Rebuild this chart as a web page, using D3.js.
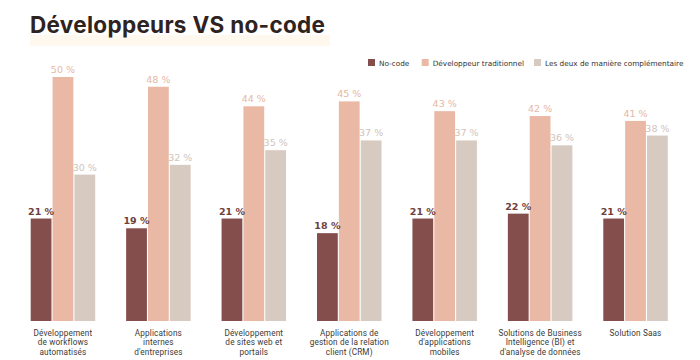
<!DOCTYPE html>
<html><head><meta charset="utf-8">
<script src="https://cdn.jsdelivr.net/npm/d3@7"></script>
<style>html,body{margin:0;padding:0;background:#fff;}svg{display:block;}</style>
</head><body>
<svg id="chart" width="700" height="360"></svg>
<script>
const categories = [
  ["Développement","de workflows","automatisés"],
  ["Applications","internes","d'entreprises"],
  ["Développement","de sites web et","portails"],
  ["Applications de","gestion de la relation","client (CRM)"],
  ["Développement","d'applications","mobiles"],
  ["Solutions de Business","Intelligence (BI) et","d'analyse de données"],
  ["Solution Saas"]
];
const seriesNames = ["No-code","Développeur traditionnel","Les deux de manière complémentaire"];
const noCode = [21,19,21,18,21,22,21];
const devTrad = [50,48,44,45,43,42,41];
const lesDeux = [30,32,35,37,37,36,38];
const series = [noCode, devTrad, lesDeux];
const colors = ["#834e4b","#e9b9a5","#d7cac1"];
const labelColors = ["#6e3f3d","#e6b7a3","#cfc4bc"];

const svg = d3.select("#chart");
const catIdx = categories.map((d,i)=>i);
const x0 = d3.scaleBand().domain(catIdx).range([30.7,667.8]).paddingInner(0.324).paddingOuter(0);
const x1 = d3.scaleBand().domain([0,1,2]).range([0,x0.bandwidth()]).paddingInner(0.05);
const y = d3.scaleLinear().domain([0,50]).range([321,77]);

// title
svg.append("rect").attr("x",30).attr("y",35).attr("width",300).attr("height",11).attr("fill","#fef8ee");
svg.append("text").attr("x",30).attr("y",33)
  .attr("font-family","Inter, 'Open Sans', sans-serif").attr("font-weight",700)
  .attr("font-size",22.5).attr("fill","#2e2320").attr("letter-spacing","0.3")
  .text("Développeurs VS no-code");

// legend
const legendX = [368,421.7,534];
seriesNames.forEach((n,i)=>{
  const g = svg.append("g").attr("transform",`translate(${legendX[i]},59)`);
  g.append("rect").attr("width",7).attr("height",7).attr("fill",colors[i]);
  g.append("text").attr("x",11).attr("y",6.5).attr("font-family","'DejaVu Sans', sans-serif")
    .attr("font-size",7.3).attr("fill","#333").text(n);
});

// bars
const groups = svg.append("g").selectAll("g").data(catIdx).join("g")
  .attr("transform",i=>`translate(${x0(i)},0)`);
groups.selectAll("rect").data(i=>series.map((s,k)=>({k,v:s[i]}))).join("rect")
  .attr("x",d=>x1(d.k)).attr("width",x1.bandwidth())
  .attr("y",d=>y(d.v)).attr("height",d=>y(0)-y(d.v)).attr("fill",d=>colors[d.k]);
groups.selectAll("text.val").data(i=>series.map((s,k)=>({k,v:s[i]}))).join("text")
  .attr("class","val")
  .attr("x",d=>x1(d.k)+x1.bandwidth()/2).attr("y",d=>y(d.v)-4)
  .attr("text-anchor","middle").attr("font-family","'DejaVu Sans', sans-serif")
  .attr("font-size",9.5).attr("font-weight",d=>d.k===0?700:400)
  .attr("fill",d=>labelColors[d.k]).text(d=>d.v+" %");

// category labels
groups.append("text").attr("text-anchor","middle")
  .attr("font-family","Roboto, sans-serif").attr("font-size",8.2).attr("fill","#3a3a3a")
  .attr("letter-spacing","0.15")
  .each(function(i){
    const t = d3.select(this);
    categories[i].forEach((line,j)=>{
      t.append("tspan").attr("x",x0.bandwidth()/2).attr("y",335.6+j*9.6).text(line);
    });
  });
</script>
</body></html>
